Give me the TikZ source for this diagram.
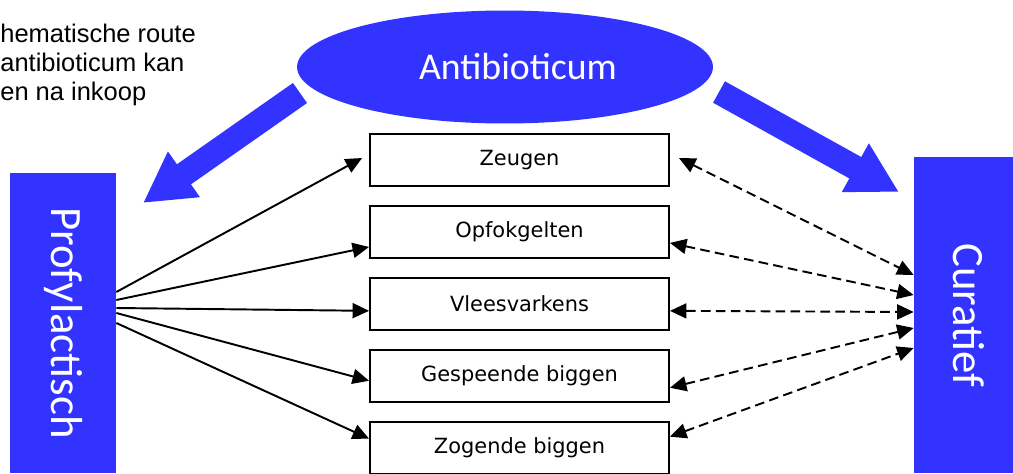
\documentclass[tikz,border=0pt]{standalone}
\usepackage{fontspec}
\usepackage{graphicx}
\usetikzlibrary{arrows.meta,calc,positioning,shapes.geometric}
\setmainfont{DejaVu Sans}
\newfontfamily\calfont{Carlito}
\newfontfamily\notefont{Liberation Sans}
\definecolor{PigBlue}{HTML}{3333FF}

\begin{document}
\begin{tikzpicture}[x=0.02cm,y=-0.02cm,node distance=.36cm,
    pen/.style={draw,line width=1.1pt,minimum width=5.98cm,minimum height=1.04cm,
                font=\fontsize{11.9}{14}\selectfont},
    side/.style={fill=PigBlue,text=white,inner sep=0pt,font=\calfont\fontsize{25.5}{30}\selectfont},
    oval/.style={ellipse,fill=PigBlue,inner sep=0pt,minimum width=8.32cm,minimum height=2.26cm},
    arr/.style={-{Triangle[length=3.3mm,width=3mm]},line width=1.1pt},
    darr/.style={{Triangle[length=3.3mm,width=3mm]}-{Triangle[length=3.3mm,width=3mm]},
                 line width=1.1pt,dash pattern=on 5.5pt off 3pt},
    bigarr/.style={-{Triangle[length=1cm,width=1.04cm]},line width=.49cm,PigBlue}]
    \useasboundingbox (0,0) rectangle (1013,473);
    \clip (0,0) rectangle (1013,473);
    \node[anchor=base west,align=left,inner sep=0pt,
          font=\notefont\fontsize{14.5}{16.4}\selectfont] (note) at (0,100)
          {hematische route\\antibioticum kan\\en na inkoop};
    \node[oval,label={[text=white,xshift=.26cm,font=\calfont\fontsize{21.5}{26}\selectfont]center:Antibioticum}]
          (anti) at (505,67) {};
    \node[side,minimum width=2.12cm,minimum height=6cm] (prof) at (63,323) {\rotatebox{-90}{Profylactisch}};
    \node[side,minimum width=2.2cm,minimum height=6.32cm] (cura) at (969,315) {\rotatebox{-90}{Curatief}};
    \node[pen] (zeug) at (519.5,160) {Zeugen};
    \node[pen,below=of zeug] (opfok) {Opfokgelten};
    \node[pen,below=of opfok] (vlees) {Vleesvarkens};
    \node[pen,below=of vlees] (gesp) {Gespeende biggen};
    \node[pen,below=of gesp] (zog) {Zogende biggen};
    % brede pijlen vanuit het antibioticum
    \coordinate (lftail) at (300,93);
    \coordinate (lftip) at (143,203);
    \coordinate (rttail) at (719,92);
    \coordinate (rttip) at (899,192);
    \draw[bigarr] (lftail)--(lftip);
    \draw[bigarr] (rttail)--(rttip);
    \foreach \n/\s/\x/\e in {zeug/-31/-7/-2,opfok/-23/0/15,vlees/-15/0/7,gesp/-10/0/5,zog/0/0/-9}
        {\draw[arr] ($(prof.east)+(0,\s)$)--($(\n.west)+(\x,\e)$);}
    \foreach \n/\x/\e/\s in {zeug/9/-2/-40,opfok/0/11/-20,vlees/0/7/-3,gesp/0/12/13,zog/0/-11/33}
        {\draw[darr] ($(\n.east)+(\x,\e)$)--($(cura.west)+(0,\s)$);}
  \end{tikzpicture}
\end{document}
